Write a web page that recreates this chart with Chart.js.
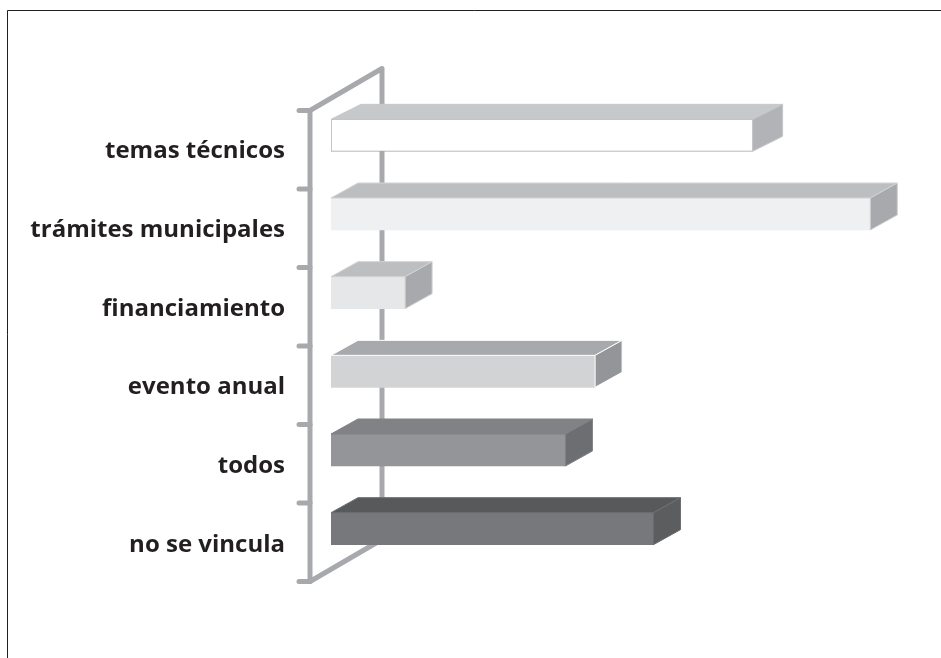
<!DOCTYPE html>
<html>
<head>
<meta charset="utf-8">
<title>Vinculación</title>
<script src="https://cdn.jsdelivr.net/npm/chart.js@4/dist/chart.umd.min.js"></script>
<style>
  html, body { margin: 0; padding: 0; background: #fff; }
  canvas { display: block; }
</style>
</head>
<body>
<canvas id="barChart" width="941" height="658"></canvas>
<script>
// Sample data
const categories = ['temas técnicos', 'trámites municipales', 'financiamiento', 'evento anual', 'todos', 'no se vincula'];
const values = [22.75, 29.1, 4.0, 14.25, 12.65, 17.4];

// Face colours for the fake 3D bars
const frontColors = ['#ffffff', '#eff0f2', '#e6e7e8', '#d1d3d4', '#939598', '#77787b'];
const topColors = ['#c7c8ca', '#bcbec0', '#bcbec0', '#a7a9ac', '#808285', '#58595b'];
const sideColors = ['#b1b3b6', '#a7a9ac', '#a7a9ac', '#939598', '#6d6e71', '#5c5d5f'];
const edgeColors = ['#c7c8ca', '#d1d3d4', '#d1d3d4', '#ffffff', '#808285', '#6d6e71'];
const depthX = [30, 27, 27, 27, 27, 27];
const depthY = 15;

const frameColor = '#a7a9ac';

// Page border, only top and left are visible
const borderPlugin = {
    id: 'pageBorder',
    beforeDraw(chart) {
        const ctx = chart.ctx;
        ctx.save();
        ctx.strokeStyle = '#231f20';
        ctx.lineWidth = 1;
        ctx.beginPath();
        ctx.moveTo(7.5, chart.height);
        ctx.lineTo(7.5, 10.5);
        ctx.lineTo(chart.width, 10.5);
        ctx.stroke();
        ctx.restore();
    }
};

// Grey bracket behind the bars, follows the category bands
const framePlugin = {
    id: 'axisFrame',
    beforeDatasetsDraw(chart) {
        const ctx = chart.ctx;
        const area = chart.chartArea;
        const front = area.left - 21;
        const back = area.left + 51;
        const top = area.top + 14.5;
        const bottom = area.bottom + 13.5;
        const band = (bottom - top) / categories.length;
        ctx.save();
        ctx.strokeStyle = frameColor;
        ctx.lineWidth = 5;
        ctx.lineCap = 'round';
        ctx.lineJoin = 'round';
        ctx.beginPath();
        ctx.moveTo(back, bottom - 42);
        ctx.lineTo(front, bottom);
        ctx.lineTo(front, top);
        ctx.lineTo(back, top - 42);
        ctx.lineTo(back, bottom - 42);
        ctx.stroke();
        for (let i = 0; i <= categories.length; i++) {
            ctx.beginPath();
            ctx.moveTo(front - 11, top + band * i);
            ctx.lineTo(front, top + band * i);
            ctx.stroke();
        }
        ctx.restore();
    }
};

// Top and side faces, taken from the bar elements
const depthPlugin = {
    id: 'barDepth',
    afterDatasetsDraw(chart) {
        const ctx = chart.ctx;
        chart.getDatasetMeta(0).data.forEach((bar, i) => {
            const left = bar.base;
            const right = bar.x;
            const y0 = bar.y - bar.height / 2;
            const y1 = bar.y + bar.height / 2;
            const dx = depthX[i];
            ctx.save();
            ctx.lineWidth = 1;
            ctx.strokeStyle = edgeColors[i];

            ctx.fillStyle = topColors[i];
            ctx.beginPath();
            ctx.moveTo(left, y0);
            ctx.lineTo(left + dx, y0 - depthY);
            ctx.lineTo(right + dx, y0 - depthY);
            ctx.lineTo(right, y0);
            ctx.closePath();
            ctx.fill();
            ctx.stroke();

            ctx.fillStyle = sideColors[i];
            ctx.beginPath();
            ctx.moveTo(right, y0);
            ctx.lineTo(right + dx, y0 - depthY);
            ctx.lineTo(right + dx, y1 - depthY);
            ctx.lineTo(right, y1);
            ctx.closePath();
            ctx.fill();
            ctx.stroke();
            ctx.restore();
        });
    }
};

const ctx = document.getElementById('barChart').getContext('2d');
const barChart = new Chart(ctx, {
    type: 'bar',
    data: {
        labels: categories,
        datasets: [{
            data: values,
            backgroundColor: frontColors,
            borderColor: ['#a7a9ac', 'transparent', 'transparent', 'transparent', 'transparent', 'transparent'],
            borderWidth: [1, 0, 0, 0, 0, 0],
            borderSkipped: false,
            barThickness: 32
        }]
    },
    options: {
        indexAxis: 'y',
        responsive: false,
        animation: false,
        layout: {
            padding: { top: 96, bottom: 90, left: 0, right: 54 }
        },
        plugins: {
            legend: { display: false },
            tooltip: { enabled: false }
        },
        scales: {
            x: {
                display: false,
                min: 0,
                max: 30
            },
            y: {
                afterFit(scale) {
                    scale.width = 331;
                },
                border: { display: false },
                grid: { display: false, drawTicks: false },
                ticks: {
                    color: '#231f20',
                    padding: 46,
                    labelOffset: 16,
                    font: { family: 'Open Sans', size: 24, weight: 'bold' }
                }
            }
        }
    },
    plugins: [borderPlugin, framePlugin, depthPlugin]
});
</script>
</body>
</html>
